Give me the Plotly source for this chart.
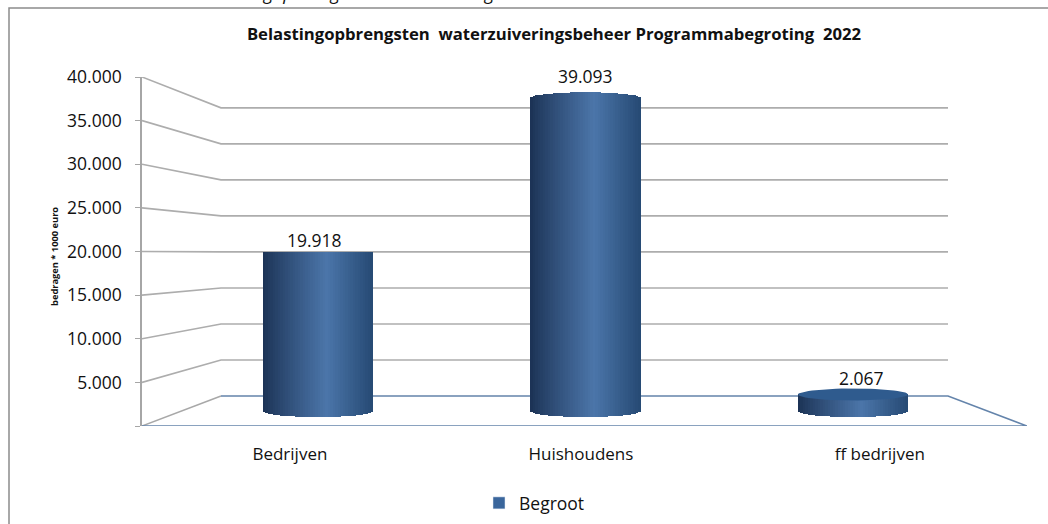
import plotly.graph_objects as go
import math

# Data
categories = ["Bedrijven", "Huishoudens", "ff bedrijven"]
begroot = [19918, 39093, 2067]
value_labels = ["19.918", "39.093", "2.067"]
y_ticks = [0, 5000, 10000, 15000, 20000, 25000, 30000, 35000, 40000]
y_ticktext = ["", "5.000", "10.000", "15.000", "20.000", "25.000", "30.000", "35.000", "40.000"]
title_text = "Belastingopbrengsten  waterzuiveringsbeheer Programmabegroting  2022"
y_title = "bedragen * 1000 euro"
series_name = "Begroot"
clipped_caption = "de belastingopbrengsten waterzuiveringsbeheer"

FONT = "Open Sans"
W, H = 1048, 524
L, R, T, B = 142, 1027, 77, 426       # plot rectangle in pixels
bar_px = 267.5                         # pixels per category
bar0_px = 318
xmin = (L - bar0_px) / bar_px
xmax = (R - bar0_px) / bar_px
depth = 79 / bar_px                    # oblique depth of the floor
back_ratio = 36 / 43.6                 # back wall scale vs front axis
back_offset = 30 / (349 / 40000)       # back wall floor height, in axis units

def back(v):
    return back_offset + v * back_ratio

def px(x):
    return (x - L) / (R - L)

def py(y):
    return (B - y) / (B - T)

# Third scale for the cylinders (middle depth)
bar_unit = 0.008
y3_range = [-(B - 411) / bar_unit, (411 - T) / bar_unit]
half_w = 55 / bar_px
N = 44
low = (27, 50, 84)
mid = (76, 118, 170)
high = (38, 74, 116)

def strip_color(t):
    if t < 0.58:
        f = (t / 0.58) ** 0.9
        c = [low[i] + (mid[i] - low[i]) * f for i in range(3)]
    else:
        f = (t - 0.58) / 0.42
        c = [mid[i] + (high[i] - mid[i]) * f for i in range(3)]
    return "rgb(%d,%d,%d)" % tuple(int(a) for a in c)

fig = go.Figure()

# walls
for v in y_ticks[1:]:
    fig.add_trace(go.Scatter(
        x=[xmin, xmin + depth, xmax - depth], y=[v, back(v), back(v)],
        mode="lines", line=dict(color="#adadad", width=1.6), cliponaxis=False,
        showlegend=False, hoverinfo="skip", xaxis="x", yaxis="y"))
# floor
fig.add_trace(go.Scatter(
    x=[xmin, xmin + depth], y=[0, back(0)], mode="lines", cliponaxis=False,
    line=dict(color="#a8a8a8", width=1.5), showlegend=False, hoverinfo="skip"))
fig.add_trace(go.Scatter(
    x=[xmin, xmax, xmax - depth, xmin + depth], y=[0, 0, back(0), back(0)], mode="lines", cliponaxis=False,
    line=dict(color="#6484ab", width=1.6), showlegend=False, hoverinfo="skip"))

# cylinders built as strips
xs, ys, bases, colors = [], [], [], []
top_rise = [0, 6, 0]
for i, v in enumerate(begroot):
    for k in range(N):
        u = -1 + (2 * k + 1) / N
        curve = (1 - u * u) ** 0.5
        dip = 6 * curve / bar_unit
        xs.append(i + u * half_w)
        bases.append(-dip)
        ys.append(v + dip + top_rise[i] * curve / bar_unit)
        colors.append(strip_color((u + 1) / 2))
fig.add_trace(go.Bar(
    x=xs, y=ys, base=bases, width=2 * half_w / N * 1.08,
    marker=dict(color=colors, line=dict(width=0)),
    showlegend=False, hoverinfo="skip", xaxis="x", yaxis="y3"))

# top face of the short cylinder
ts = [j * 2 * math.pi / 60 for j in range(61)]
fig.add_trace(go.Scatter(
    x=[2 + half_w * math.cos(t) for t in ts],
    y=[begroot[2] + 6 / bar_unit * math.sin(t) for t in ts],
    mode="lines", fill="toself", fillcolor="#2f5b8e", line=dict(width=0),
    showlegend=False, hoverinfo="skip", xaxis="x", yaxis="y3"))

# legend entry
fig.add_trace(go.Bar(x=[None], y=[None], name=series_name, marker=dict(color="#3a669c"),
                     xaxis="x", yaxis="y3"))

label_yshift = [12, 22, 16]
label_xshift = [-4, 0, 8]
annotations = [
    dict(text=value_labels[i], x=i, y=begroot[i], xref="x", yref="y3",
         xshift=label_xshift[i], yshift=label_yshift[i],
         showarrow=False, font=dict(family=FONT, size=17.5, color="#111"))
    for i in range(3)
]
annotations.append(dict(text="<b>%s</b>" % y_title, textangle=-90, xref="paper", yref="paper",
                        x=px(54), y=py(257), xanchor="center", yanchor="middle", showarrow=False,
                        font=dict(family=FONT, size=9.3, color="#111")))
annotations.append(dict(text="<i>%s</i>" % clipped_caption, xref="paper", yref="paper", x=px(175), y=py(-7),
                        xanchor="left", yanchor="middle", showarrow=False,
                        font=dict(family=FONT, size=18, color="#111")))

fig.update_layout(
    width=W, height=H, paper_bgcolor="white", plot_bgcolor="white",
    margin=dict(l=L, r=W - R, t=T, b=H - B, autoexpand=False),
    barmode="overlay", bargap=0,
    font=dict(family=FONT, size=17, color="#111"),
    title=dict(text="<b>%s</b>" % title_text, x=554 / W, xanchor="center", y=1 - 34 / H, yanchor="middle",
               font=dict(family=FONT, size=16.7, color="#111")),
    xaxis=dict(range=[xmin, xmax], tickmode="array", tickvals=[-0.105, 0.983, 2.1], ticktext=categories,
               showgrid=False, zeroline=False, showline=False, ticks="", ticklabelstandoff=16,
               tickfont=dict(family=FONT, size=17, color="#111")),
    yaxis=dict(range=[0, 40000], tickmode="array", tickvals=y_ticks, ticktext=y_ticktext,
               showgrid=False, zeroline=False, showline=True, linecolor="#a6a6a6", linewidth=1.5,
               ticks="outside", ticklen=5, tickcolor="#a6a6a6", ticklabelstandoff=10,
               tickfont=dict(family=FONT, size=17.5, color="#111")),
    yaxis3=dict(range=y3_range, overlaying="y", visible=False, fixedrange=True),
    showlegend=True,
    legend=dict(x=px(479), y=py(503), xanchor="left", yanchor="middle", orientation="h",
                font=dict(family=FONT, size=17.5, color="#111"), bgcolor="rgba(0,0,0,0)"),
    shapes=[dict(type="path", xref="paper", yref="paper", line=dict(color="#8c8c8c", width=1.5),
                 path="M %f,%f L %f,%f L %f,%f" % (px(9), py(530), px(9), py(8), px(1055), py(8)))],
    annotations=annotations,
)
fig.write_html("out.html", config=dict(displayModeBar=False),
               post_script="document.body.style.margin='0';")
